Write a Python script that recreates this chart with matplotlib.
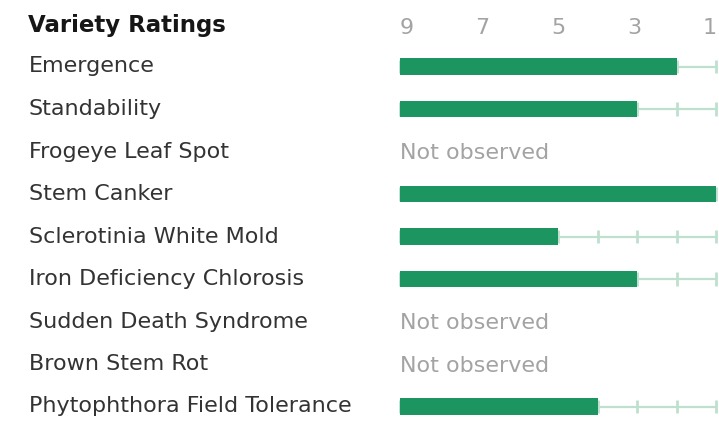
import matplotlib
matplotlib.use("Agg")
import matplotlib.pyplot as plt
from matplotlib.transforms import blended_transform_factory

# ---- data ----
title = "Variety Ratings"
traits = ["Emergence", "Standability", "Frogeye Leaf Spot", "Stem Canker",
          "Sclerotinia White Mold", "Iron Deficiency Chlorosis",
          "Sudden Death Syndrome", "Brown Stem Rot", "Phytophthora Field Tolerance"]
ratings = [2, 3, None, 1, 5, 3, None, None, 4]
scale_ticks = [9, 7, 5, 3, 1]
missing_text = "Not observed"

# ---- style ----
BAR = "#1c9560"
TRACK = "#bfe0ce"
DARK = "#333333"
GREY = "#a3a3a3"
FONT = "DejaVu Sans"
FS = 16

W, H = 719, 421
x9, x1 = 400, 716.5
row0, step = 66.5, 42.5

fig = plt.figure(figsize=(W / 100, H / 100), dpi=100)
ax = fig.add_axes([x9 / W, 0, (x1 - x9) / W, 1])
ax.set_xlim(9, 1)
ax.set_ylim((H - row0) / step, -row0 / step)
ax.axis("off")

lab = blended_transform_factory(fig.transFigure, ax.transData)
base_off = 6.0 / step

# title
ax.text(28 / W, -1 + (31.7 - (row0 - step)) / step, title, transform=lab,
        ha="left", va="baseline", fontsize=16.5, fontweight="bold",
        family=FONT, color="#161616")

# scale labels (space-between layout)
n = len(scale_ticks)
for i, t in enumerate(scale_ticks):
    if i == 0:
        xx, ha = scale_ticks[0], "left"
    elif i == n - 1:
        xx, ha = scale_ticks[-1], "right"
    else:
        a, b = scale_ticks[0] - 0.16, scale_ticks[-1] + 0.16
        xx, ha = a + (b - a) * i / (n - 1), "center"
    ax.text(xx, -1 + (34.3 - (row0 - step)) / step, str(t), ha=ha, va="baseline",
            fontsize=FS, family=FONT, color=GREY, clip_on=False)

bar_h = 16.7 / step
tick_h = 13.7 / step
for i, (name, r) in enumerate(zip(traits, ratings)):
    ax.text(29 / W, i + base_off, name, transform=lab, ha="left", va="baseline",
            fontsize=FS, family=FONT, color=DARK)
    if r is None:
        ax.text(9, i + base_off + 1.5 / step, missing_text, ha="left", va="baseline",
                fontsize=FS, family=FONT, color=GREY, clip_on=False)
        continue
    ax.plot([r, 1], [i, i], color=TRACK, lw=1.6, solid_capstyle="butt", zorder=1,
            clip_on=False)
    for k in range(1, 10):
        ax.plot([k, k], [i - tick_h / 2, i + tick_h / 2], color=TRACK, lw=2.0,
                solid_capstyle="butt", zorder=1, clip_on=False)
    ax.barh(i, 9 - r, left=r, height=bar_h, color=BAR, zorder=2, clip_on=False)

fig.savefig("out.png", dpi=100)
